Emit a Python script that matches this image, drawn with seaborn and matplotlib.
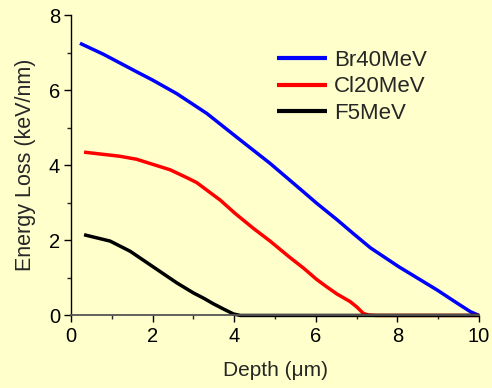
import numpy as np
import pandas as pd
import matplotlib
matplotlib.use("Agg")
import matplotlib.pyplot as plt
import seaborn as sns
from matplotlib.ticker import MultipleLocator

sns.set_theme(style="ticks")
plt.rcParams['font.family'] = ['Liberation Sans', 'DejaVu Sans']

series_names = ["Br40MeV", "Cl20MeV", "F5MeV"]
colors = ["#0000FF", "#FF0000", "#000000"]

br_depth = [0.22, 0.79, 1.61, 2.0, 2.59, 3.33, 4.06, 4.88, 5.29, 5.70, 6.02, 6.52,
            6.92, 7.34, 8.03, 8.97, 9.46, 9.79, 10.0]
br_loss = [7.25, 6.96, 6.49, 6.27, 5.91, 5.38, 4.75, 4.05, 3.67, 3.29, 2.99, 2.55,
           2.18, 1.80, 1.30, 0.68, 0.33, 0.10, 0.0]

cl_depth = [0.32, 1.2, 1.61, 2.02, 2.43, 2.84, 3.08, 3.66, 4.02, 4.47, 4.88, 5.37,
            5.70, 6.02, 6.27, 6.52, 6.84, 7.0, 7.17, 7.3, 7.49, 10.0]
cl_loss = [4.35, 4.24, 4.16, 4.02, 3.88, 3.67, 3.54, 3.07, 2.72, 2.32, 1.98, 1.54,
           1.26, 0.96, 0.76, 0.57, 0.37, 0.23, 0.05, 0.01, 0.0, 0.0]

f_depth = [0.32, 0.96, 1.45, 2.02, 2.59, 3.0, 3.25, 3.49, 3.74, 3.98, 4.15, 10.0]
f_loss = [2.15, 1.98, 1.71, 1.29, 0.87, 0.60, 0.46, 0.31, 0.17, 0.04, 0.0, 0.0]

frames = []
for name, d, l in zip(series_names, [br_depth, cl_depth, f_depth], [br_loss, cl_loss, f_loss]):
    frames.append(pd.DataFrame({"Depth": d, "Loss": l, "Ion": name}))
df = pd.concat(frames, ignore_index=True)

bg = "#FFFFCC"
fig = plt.figure(figsize=(4.92, 3.88), dpi=100, facecolor=bg)
ax = fig.add_axes([0.1443, 0.187, 0.8293, 0.774])
ax.set_facecolor(bg)

sns.lineplot(data=df, x="Depth", y="Loss", hue="Ion", hue_order=series_names,
             palette=colors, linewidth=2.5, sort=False, estimator=None, ax=ax)
for ln in ax.lines:
    ln.set_clip_on(False)
    ln.set_solid_capstyle("butt")
    ln.set_solid_joinstyle("round")

ax.set_xlim(0, 10)
ax.set_ylim(0, 8)
ax.xaxis.set_major_locator(MultipleLocator(2))
ax.xaxis.set_minor_locator(MultipleLocator(1))
ax.yaxis.set_major_locator(MultipleLocator(2))
ax.yaxis.set_minor_locator(MultipleLocator(1))
ax.tick_params(which="major", direction="out", length=5, width=1, labelsize=14.5,
               colors="black", pad=3)
ax.tick_params(which="minor", direction="out", length=3, width=1)
for s in ["top", "right"]:
    ax.spines[s].set_visible(False)
ax.spines["left"].set_color("black")
ax.spines["bottom"].set_color("#555555")
ax.spines["left"].set_linewidth(1)
ax.spines["bottom"].set_linewidth(1.3)

ax.set_xlabel("Depth (\u03bcm)", fontsize=15, labelpad=11)
ax.set_ylabel("Energy Loss (keV/nm)", fontsize=15.5, labelpad=9)

leg = ax.legend(title=None, frameon=False, fontsize=16, handlelength=2.25,
                loc="upper left", bbox_to_anchor=(0.563, 0.872),
                bbox_transform=fig.transFigure, borderpad=0, borderaxespad=0,
                labelspacing=0.26, handletextpad=0.3)
for h in leg.get_lines():
    h.set_linewidth(3)

fig.savefig("out.png", dpi=100, facecolor=bg)
